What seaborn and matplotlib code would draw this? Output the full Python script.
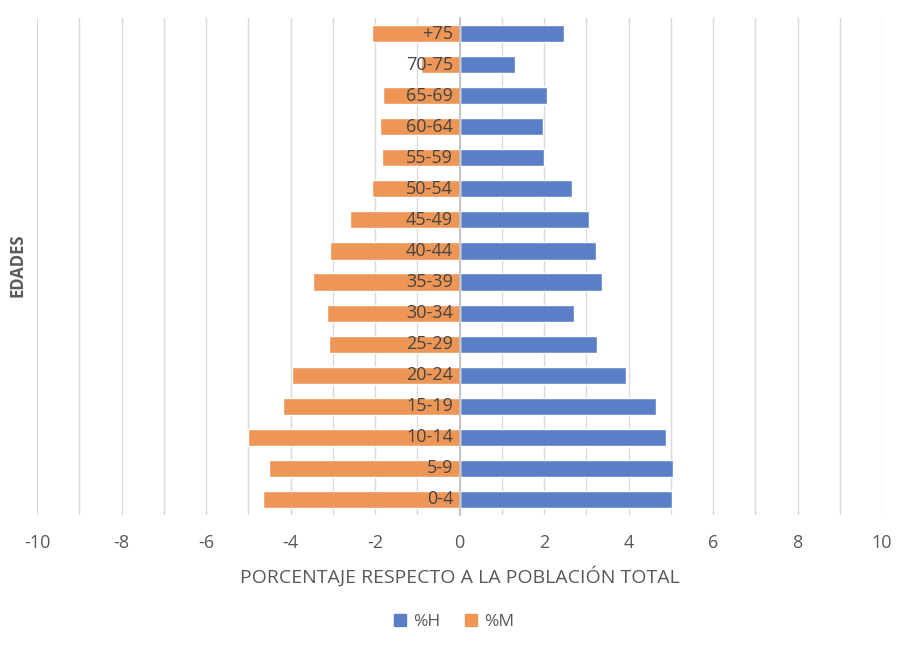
import matplotlib
matplotlib.use('Agg')
import matplotlib.pyplot as plt
import seaborn as sns
import pandas as pd
from matplotlib.patches import Patch
from matplotlib.ticker import FuncFormatter

edades = ['+75', '70-75', '65-69', '60-64', '55-59', '50-54', '45-49', '40-44',
          '35-39', '30-34', '25-29', '20-24', '15-19', '10-14', '5-9', '0-4']
hombres = [2.48, 1.31, 2.07, 1.98, 2.0, 2.66, 3.07, 3.23,
           3.37, 2.71, 3.25, 3.94, 4.65, 4.89, 5.05, 5.03]
mujeres = [-2.07, -0.92, -1.81, -1.88, -1.84, -2.07, -2.59, -3.07,
           -3.46, -3.14, -3.10, -3.97, -4.18, -5.01, -4.50, -4.64]
x_ticks = list(range(-10, 11, 2))

df = pd.DataFrame({
    'edad': edades * 2,
    'valor': hombres + mujeres,
    'serie': ['%H'] * len(edades) + ['%M'] * len(edades),
})

sns.set_theme(style='white')
plt.rcParams['font.family'] = ['Open Sans', 'DejaVu Sans']

c_h = '#5b7fc6'
c_m = '#ee9656'
txt = '#595959'

fig = plt.figure(figsize=(8.99, 6.59), dpi=100)
ax = fig.add_axes([0.0412, 0.2185, 0.9399, 0.7542])

sns.barplot(data=df, y='edad', x='valor', hue='serie', order=edades,
            palette={'%H': c_h, '%M': c_m}, dodge=False, orient='h',
            width=0.55, saturation=1, ax=ax, legend=False, zorder=3)

ax.set_xlim(-10, 10)
ax.set_ylim(len(edades) - 0.5, -0.5)
ax.set_xticks(x_ticks)
ax.set_xticks(range(-10, 11), minor=True)
ax.xaxis.set_major_formatter(FuncFormatter(lambda v, p: f'{int(v)}'.replace('\u2212', '-')))
ax.grid(axis='x', which='both', color='#d9d9d9', linewidth=1, zorder=0)
ax.set_axisbelow(True)

for s in ['top', 'right', 'bottom']:
    ax.spines[s].set_visible(False)
ax.spines['left'].set_position(('data', 0))
ax.spines['left'].set_color('#bfbfbf')
ax.spines['left'].set_zorder(5)

# category labels drawn over the bars, right-aligned at the zero axis
ax.set_yticklabels([])
ax.tick_params(axis='y', length=0)
for i, lab in enumerate(edades):
    ax.text(-0.15, i, lab, ha='right', va='center', fontsize=13,
            color='#454545', zorder=10)

ax.tick_params(axis='x', which='both', length=0, pad=14, labelsize=13, labelcolor=txt)

ax.set_ylabel('')
ax.set_xlabel('PORCENTAJE RESPECTO A LA POBLACIÓN TOTAL', fontsize=14,
              color=txt, labelpad=10)
fig.text(0.02, 0.598, 'EDADES', rotation=90, fontsize=12, fontweight='bold',
         color=txt, ha='center', va='center')

handles = [Patch(color=c_h, label='%H'), Patch(color=c_m, label='%M')]
fig.legend(handles=handles, loc='center', bbox_to_anchor=(0.505, 0.056), ncol=2,
           frameon=False, fontsize=12.5, labelcolor=txt, handlelength=0.7,
           handleheight=0.7, handletextpad=0.4, columnspacing=1.4)

fig.savefig('out.png', dpi=100)
